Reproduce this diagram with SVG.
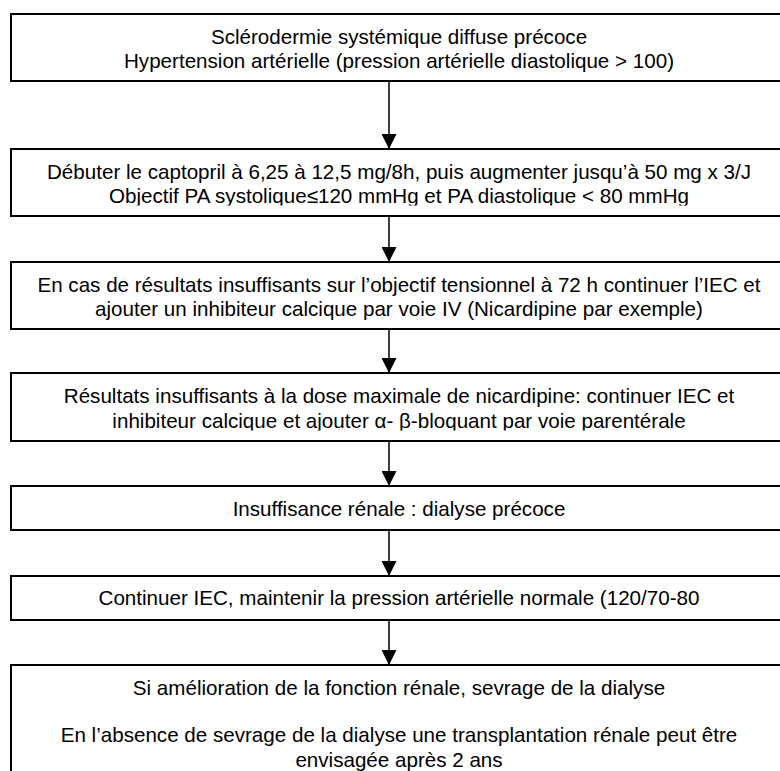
<svg xmlns="http://www.w3.org/2000/svg" width="780" height="771" viewBox="0 0 780 771">
<style>
.box{fill:#fff;stroke:#000;stroke-width:2}
.t{font-family:"Liberation Sans",Arial,sans-serif;font-size:20.6px;fill:#000;text-anchor:middle}
.c{stroke:#000;stroke-width:1.5;fill:none;marker-end:url(#ah)}
</style>
<defs>
<marker id="ah" markerUnits="userSpaceOnUse" markerWidth="15" markerHeight="15" refX="15" refY="7.5" orient="auto" viewBox="0 0 15 15">
<path d="M0,0 L15,7.5 L0,15 z" fill="#000"/>
</marker>
<clipPath id="clip2"><rect x="0" y="0" width="780" height="205.5"/></clipPath>
<clipPath id="clip4"><rect x="0" y="0" width="780" height="430.5"/></clipPath>
</defs>
<rect width="780" height="771" fill="#fff"/>
<g id="connectors">
<line class="c" x1="389" y1="81" x2="389" y2="149"/>
<line class="c" x1="389" y1="216" x2="389" y2="262"/>
<line class="c" x1="389" y1="329" x2="389" y2="373"/>
<line class="c" x1="389" y1="441" x2="389" y2="486"/>
<line class="c" x1="389" y1="530" x2="389" y2="576"/>
<line class="c" x1="389" y1="620" x2="389" y2="665"/>
</g>
<g id="n1">
<rect class="box" x="11" y="14" width="776" height="67"/>
<text class="t" x="399" y="44">Sclérodermie systémique diffuse précoce</text>
<text class="t" x="399" y="68">Hypertension artérielle (pression artérielle diastolique &gt; 100)</text>
</g>
<g id="n2">
<rect class="box" x="11" y="149" width="776" height="67"/>
<text class="t" x="399" y="179">Débuter le captopril à 6,25 à 12,5 mg/8h, puis augmenter jusqu’à 50 mg x 3/J</text>
<text class="t" x="399" y="203" clip-path="url(#clip2)">Objectif PA systolique≤120 mmHg et PA diastolique &lt; 80 mmHg</text>
</g>
<g id="n3">
<rect class="box" x="11" y="262" width="776" height="67"/>
<text class="t" x="399" y="292">En cas de résultats insuffisants sur l’objectif tensionnel à 72 h continuer l’IEC et</text>
<text class="t" x="399" y="316">ajouter un inhibiteur calcique par voie IV (Nicardipine par exemple)</text>
</g>
<g id="n4">
<rect class="box" x="11" y="373" width="776" height="68"/>
<text class="t" x="399" y="403">Résultats insuffisants à la dose maximale de nicardipine: continuer IEC et</text>
<text class="t" x="399" y="428" clip-path="url(#clip4)">inhibiteur calcique et ajouter α- β-bloquant par voie parentérale</text>
</g>
<g id="n5">
<rect class="box" x="11" y="486" width="776" height="44"/>
<text class="t" x="399" y="516">Insuffisance rénale : dialyse précoce</text>
</g>
<g id="n6">
<rect class="box" x="11" y="576" width="776" height="44"/>
<text class="t" x="399" y="605">Continuer IEC, maintenir la pression artérielle normale (120/70-80</text>
</g>
<g id="n7">
<rect class="box" x="11" y="665" width="776" height="140"/>
<text class="t" x="399" y="695">Si amélioration de la fonction rénale, sevrage de la dialyse</text>
<text class="t" x="399" y="742">En l’absence de sevrage de la dialyse une transplantation rénale peut être</text>
<text class="t" x="399" y="767">envisagée après 2 ans</text>
</g>
</svg>
